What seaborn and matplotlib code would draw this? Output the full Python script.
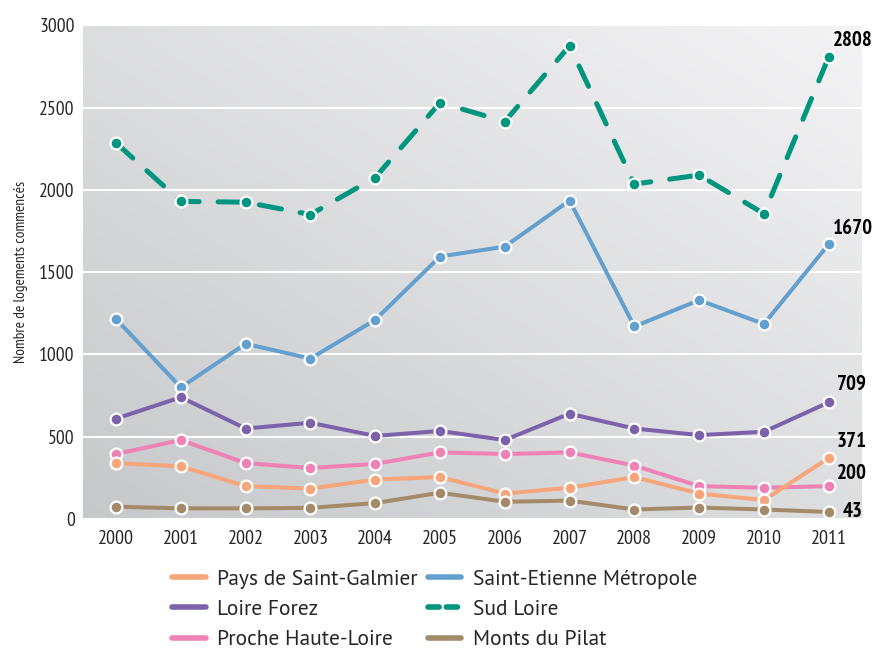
import numpy as np
import pandas as pd
import matplotlib
matplotlib.use("Agg")
import matplotlib.pyplot as plt
from matplotlib import font_manager
import seaborn as sns

# ------------------------------------------------------------
# Données
# ------------------------------------------------------------
years = list(range(2000, 2012))

sud_loire = [2285, 1930, 1925, 1850, 2075, 2530, 2415, 2875, 2035, 2090, 1855, 2808]
saint_etienne = [1215, 800, 1065, 975, 1210, 1595, 1655, 1935, 1170, 1330, 1185, 1670]
loire_forez = [610, 740, 550, 585, 505, 535, 480, 640, 550, 510, 530, 709]
proche_haute_loire = [395, 480, 340, 310, 335, 405, 395, 405, 325, 200, 190, 200]
saint_galmier = [340, 320, 200, 185, 240, 255, 155, 190, 255, 155, 115, 371]
monts_pilat = [75, 65, 65, 68, 97, 160, 105, 112, 58, 70, 58, 43]

series = {
    "Saint-Etienne Métropole": saint_etienne,
    "Sud Loire": sud_loire,
    "Loire Forez": loire_forez,
    "Proche Haute-Loire": proche_haute_loire,
    "Pays de Saint-Galmier": saint_galmier,
    "Monts du Pilat": monts_pilat,
}
colors = {
    "Pays de Saint-Galmier": "#F7A57A",
    "Loire Forez": "#7B62AA",
    "Proche Haute-Loire": "#EE82B4",
    "Saint-Etienne Métropole": "#64A0CF",
    "Sud Loire": "#00957E",
    "Monts du Pilat": "#A38B6A",
}
legend_order = ["Pays de Saint-Galmier", "Loire Forez", "Proche Haute-Loire",
                "Saint-Etienne Métropole", "Sud Loire", "Monts du Pilat"]

# étiquettes de fin de courbe: (série, décalage x, décalage y) en points
end_labels = [
    ("Sud Loire", 3, 12),
    ("Saint-Etienne Métropole", 3, 11),
    ("Loire Forez", 6, 13),
    ("Pays de Saint-Galmier", 6, 12),
    ("Proche Haute-Loire", 6, 9),
    ("Monts du Pilat", 10, 0),
]

df = pd.DataFrame([
    {"annee": y, "serie": name, "valeur": v}
    for name, vals in series.items()
    for y, v in zip(years, vals)
])

# polices type Myriad (étroite pour les axes, normale pour la légende)
available = {f.name for f in font_manager.fontManager.ttflist}


def pick(cands, default="DejaVu Sans"):
    for c in cands:
        if c in available:
            return c
    return default


narrow = pick(["PT Sans Narrow", "Roboto Condensed", "Fira Sans Condensed",
               "Archivo Narrow", "Liberation Sans Narrow"])
regular = pick(["PT Sans", "Open Sans", "Lato", "Noto Sans"])

# ------------------------------------------------------------
# Figure
# ------------------------------------------------------------
sns.set_style("white")
plt.rcParams["font.family"] = [narrow, "DejaVu Sans"]

fig = plt.figure(figsize=(8.74, 6.48), dpi=100)
ax = fig.add_axes([0.095, 0.199, 0.891, 0.762])

# fond en dégradé gris
gx, gy = np.meshgrid(np.linspace(0, 1, 200), np.linspace(0, 1, 200))
t = (gx + gy) / 2
dark = np.array([0.78, 0.785, 0.795])
light = np.array([0.955, 0.955, 0.96])
grad = dark[None, None, :] * (1 - t[..., None]) + light[None, None, :] * t[..., None]
ax.imshow(grad, extent=[0, 1, 0, 1], transform=ax.transAxes, origin="lower",
          aspect="auto", zorder=0)

for name in series:
    sub = df[df["serie"] == name]
    dashed = name == "Sud Loire"
    sns.lineplot(
        data=sub, x="annee", y="valeur", ax=ax,
        color=colors[name],
        linewidth=3.6 if dashed else 2.9,
        linestyle=(0, (4.5, 3.8)) if dashed else "-",
        marker="o", markersize=8.5, markerfacecolor=colors[name],
        markeredgecolor="white", markeredgewidth=1.6,
        solid_capstyle="round", dash_capstyle="round", solid_joinstyle="round",
        label=name, legend=False, zorder=3,
    )

for name, dx, dy in end_labels:
    val = series[name][-1]
    ax.annotate(f"{val}", xy=(years[-1], val), xytext=(dx, dy),
                textcoords="offset points", ha="left", va="center",
                fontsize=15, fontweight="bold", color="black",
                annotation_clip=False, zorder=5)

ax.set_xlim(1999.49, 2011.51)
ax.set_ylim(0, 3000)
ax.set_yticks(range(0, 3001, 500))
ax.set_xticks(years)
ax.set_xticks([y + 0.5 for y in years[:-1]], minor=True)
ax.tick_params(axis="x", which="major", length=0, labelsize=14.5, pad=8)
ax.tick_params(axis="x", which="minor", direction="in", length=5, width=1.5,
               color="white")
ax.tick_params(axis="y", length=0, labelsize=14, pad=6)
ax.yaxis.grid(True, color="white", linewidth=1.5, zorder=1)
ax.set_axisbelow(True)
for s in ax.spines.values():
    s.set_visible(False)
ax.set_xlabel("")
ax.set_ylabel("Nombre de logements commencés", fontsize=11, labelpad=8)

# légende
handles = []
for name in legend_order:
    dashed = name == "Sud Loire"
    h, = ax.plot([], [], color=colors[name], linewidth=4,
                 linestyle=(0, (2.0, 1.3)) if dashed else "-",
                 solid_capstyle="round", dash_capstyle="round")
    handles.append(h)
fig.legend(handles, legend_order, ncol=2, loc="upper left",
           bbox_to_anchor=(0.197, 0.121), frameon=False,
           prop={"family": regular, "size": 15.5},
           handlelength=1.55, handletextpad=0.55, columnspacing=0.45,
           labelspacing=0.52, borderaxespad=0, borderpad=0)

fig.savefig("out.png", dpi=100)
